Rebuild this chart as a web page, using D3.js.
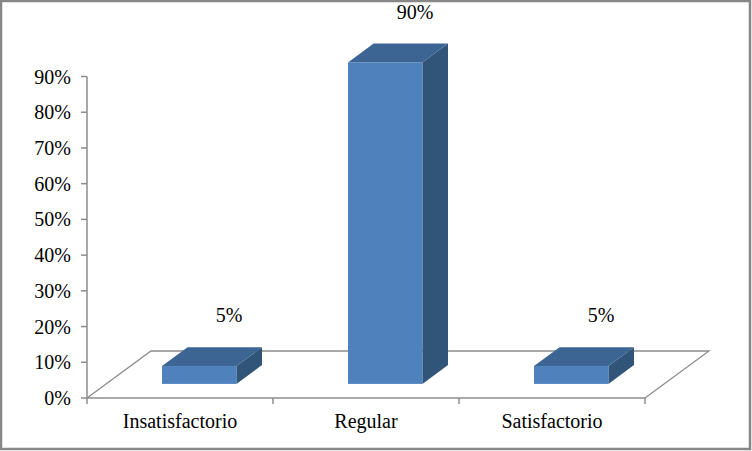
<!DOCTYPE html>
<html>
<head>
<meta charset="utf-8">
<script src="https://cdn.jsdelivr.net/npm/d3@7"></script>
<style>
  html, body { margin: 0; padding: 0; background: #fff; }
  svg { display: block; }
  svg text { font-family: "Liberation Serif", "Times New Roman", Times, "DejaVu Serif", serif; fill: #000; }
</style>
</head>
<body>
<svg id="chart" width="752" height="451"></svg>
<script>
// 데이터
var categories = ['Insatisfactorio', 'Regular', 'Satisfactorio'];
var values = [0.05, 0.90, 0.05];
var yTicks = [0, 0.1, 0.2, 0.3, 0.4, 0.5, 0.6, 0.7, 0.8, 0.9];

(function () {
    var W = 752, H = 451;
    var FONT = '"Liberation Serif", "Times New Roman", Times, "DejaVu Serif", serif';
    var svg = d3.select('#chart');

    // 3D 바닥 깊이
    var DX = 64, DY = -47;
    var barStart = 0.3, barDepth = 0.4;   // 깊이 비율

    var x = d3.scaleBand().domain(categories).range([87, 645]).padding(0);
    var y = d3.scaleLinear().domain([0, 0.9]).range([398, 76.5]);
    var bw = x.bandwidth() * 0.4;

    // 외곽선
    svg.append('rect')
        .attr('x', 1).attr('y', 1).attr('width', W - 3).attr('height', H - 3)
        .attr('fill', '#fff').attr('stroke', '#878787').attr('stroke-width', 2.5);

    var axisColor = '#8c8c8c';
    var x0 = x.range()[0], x1 = x.range()[1], y0 = y(0);

    // 바닥
    svg.append('path')
        .attr('d', 'M' + x0 + ',' + y0 + 'L' + (x0 + DX) + ',' + (y0 + DY) +
            'L' + (x1 + DX) + ',' + (y0 + DY) + 'L' + x1 + ',' + y0)
        .attr('fill', 'none').attr('stroke', axisColor).attr('stroke-width', 1.3);

    // y 축
    svg.append('line')
        .attr('x1', x0).attr('x2', x0).attr('y1', y(0.9)).attr('y2', y0)
        .attr('stroke', axisColor).attr('stroke-width', 1.5);
    var yt = svg.append('g');
    yt.selectAll('line').data(yTicks).join('line')
        .attr('x1', x0 - 6).attr('x2', x0)
        .attr('y1', function (d) { return y(d); }).attr('y2', function (d) { return y(d); })
        .attr('stroke', axisColor).attr('stroke-width', 1.5);
    yt.selectAll('text').data(yTicks).join('text')
        .attr('x', 71).attr('y', function (d) { return y(d); })
        .attr('dy', '0.35em')
        .attr('text-anchor', 'end')
        .attr('font-family', FONT)
        .attr('font-size', 20)
        .text(d3.format('.0%'));

    // x 축
    svg.append('line')
        .attr('x1', x0).attr('x2', x1).attr('y1', y0).attr('y2', y0)
        .attr('stroke', axisColor).attr('stroke-width', 1.5);
    var bounds = categories.map(function (c) { return x(c); }).concat([x1]);
    svg.append('g').selectAll('line').data(bounds).join('line')
        .attr('x1', function (d) { return d; }).attr('x2', function (d) { return d; })
        .attr('y1', y0).attr('y2', y0 + 6)
        .attr('stroke', axisColor).attr('stroke-width', 1.5);
    svg.append('g').selectAll('text').data(categories).join('text')
        .attr('x', function (d) { return x(d) + x.bandwidth() / 2; })
        .attr('y', 428)
        .attr('text-anchor', 'middle')
        .attr('font-family', FONT)
        .attr('font-size', 20)
        .text(function (d) { return d; });

    // 막대
    var ox = DX * barStart, oy = DY * barStart;
    var dx = DX * barDepth, dy = DY * barDepth;
    var bars = svg.append('g').selectAll('g')
        .data(categories.map(function (c, i) { return { c: c, v: values[i] }; }))
        .join('g');

    function geom(d) {
        var l = x(d.c) + (x.bandwidth() - bw) / 2 + ox;
        var r = l + bw;
        var b = y0 + oy;
        var t = b - (y0 - y(d.v));
        return { l: l, r: r, b: b, t: t };
    }

    bars.append('path')   // 옆면
        .attr('d', function (d) {
            var g = geom(d);
            return 'M' + g.r + ',' + g.b + 'L' + (g.r + dx) + ',' + (g.b + dy) +
                'L' + (g.r + dx) + ',' + (g.t + dy) + 'L' + g.r + ',' + g.t + 'Z';
        })
        .attr('fill', '#315479');
    bars.append('path')   // 윗면
        .attr('d', function (d) {
            var g = geom(d);
            return 'M' + g.l + ',' + g.t + 'L' + (g.l + dx) + ',' + (g.t + dy) +
                'L' + (g.r + dx) + ',' + (g.t + dy) + 'L' + g.r + ',' + g.t + 'Z';
        })
        .attr('fill', '#3c6593');
    bars.append('rect')   // 앞면
        .attr('x', function (d) { return geom(d).l; })
        .attr('y', function (d) { return geom(d).t; })
        .attr('width', bw)
        .attr('height', function (d) { var g = geom(d); return g.b - g.t; })
        .attr('fill', '#4f81bd');

    // 값 라벨
    bars.append('text')
        .attr('x', function (d) { var g = geom(d); return (g.l + g.r) / 2 + 30; })
        .attr('y', function (d) { return geom(d).t + dy - 25; })
        .attr('text-anchor', 'middle')
        .attr('font-family', FONT)
        .attr('font-size', 20)
        .text(function (d) { return d3.format('.0%')(d.v); });
})();
</script>
</body>
</html>
